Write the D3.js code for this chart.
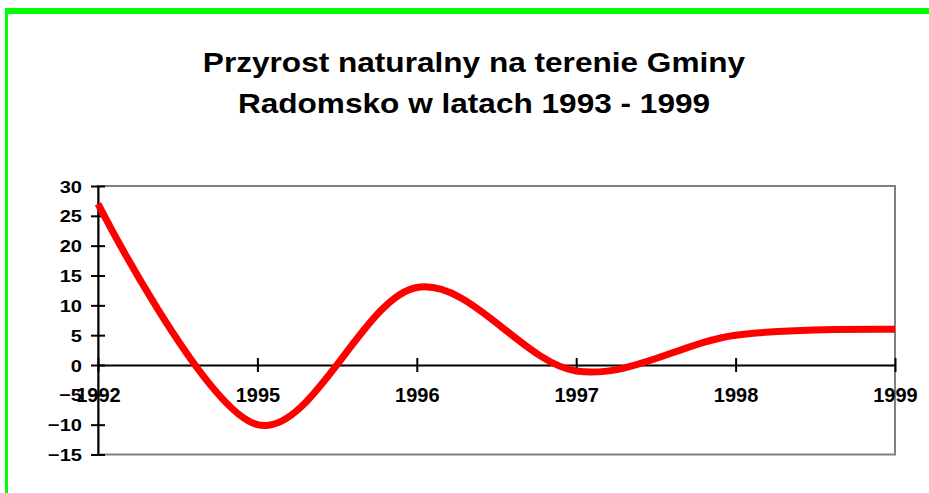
<!DOCTYPE html>
<head>
  <meta charset="utf-8">
  <script src="https://d3js.org/d3.v7.min.js"></script>
  <style>
    body { margin:0; background:#fff; }
    text { font-family: Arial, "Liberation Sans", sans-serif; font-weight: bold; fill: #000; }
  </style>
</head>
<body>
  <script>
    // chart data
    var years = ['1992', '1995', '1996', '1997', '1998', '1999'];
    var growth = [27, -10, 13, -1, 5, 6];
    var yTicks = [-15, -10, -5, 0, 5, 10, 15, 20, 25, 30];
    var titleLines = ['Przyrost naturalny na terenie Gminy', 'Radomsko w latach 1993 - 1999'];

    var width = 929, height = 493;
    var plotL = 98, plotR = 895, plotT = 186, plotB = 454.5;

    var svg = d3.select('body').append('svg')
      .attr('width', width)
      .attr('height', height);

    // green frame (top and left)
    svg.append('rect').attr('x', 5).attr('y', 8).attr('width', width - 5).attr('height', 6).attr('fill', '#00ff00');
    svg.append('rect').attr('x', 5).attr('y', 8).attr('width', 3).attr('height', height - 8).attr('fill', '#00ff00');

    // title (stretched a bit wider, like the original)
    svg.append('g')
      .attr('transform', 'translate(474,0) scale(1.17,1)')
      .append('text')
      .attr('text-anchor', 'middle')
      .style('font-size', '27px')
      .selectAll('tspan')
      .data(titleLines)
      .enter().append('tspan')
      .attr('x', 0)
      .attr('y', (d, i) => 72 + i * 41)
      .text(d => d);

    var x = d3.scalePoint().domain(years).range([plotL, plotR]);
    var y = d3.scaleLinear().domain([-15, 30]).range([plotB, plotT]);

    // plot frame (gray)
    svg.append('rect')
      .attr('x', plotL).attr('y', plotT)
      .attr('width', plotR - plotL).attr('height', plotB - plotT)
      .attr('fill', 'none')
      .attr('stroke', '#808080')
      .attr('stroke-width', 2);

    // y axis
    var yAxis = svg.append('g')
      .attr('transform', 'translate(' + plotL + ',0)')
      .call(d3.axisLeft(y).tickValues(yTicks).tickSizeInner(7).tickSizeOuter(0).tickPadding(16));
    yAxis.select('.domain').attr('stroke', '#000').attr('stroke-width', 2);
    yAxis.selectAll('.tick line').attr('x1', -7).attr('x2', 7).attr('stroke', '#000').attr('stroke-width', 2);
    yAxis.selectAll('.tick text')
      .style('font-size', '17px')
      .attr('x', 0)
      .attr('dy', '0.36em')
      .attr('transform', 'translate(-16,0) scale(1.18,1)');

    // x axis at zero
    var xAxis = svg.append('g')
      .attr('transform', 'translate(0,' + y(0) + ')')
      .call(d3.axisBottom(x).tickSizeInner(7).tickSizeOuter(0).tickPadding(16));
    xAxis.select('.domain').attr('stroke', '#000').attr('stroke-width', 2);
    xAxis.selectAll('.tick line').attr('y1', -7).attr('stroke', '#000').attr('stroke-width', 2);
    xAxis.selectAll('.tick text').style('font-size', '20px');

    // smoothed line
    var line = d3.line()
      .x((d, i) => x(years[i]))
      .y(d => y(d))
      .curve(d3.curveCardinal.tension(0));

    svg.append('path')
      .datum(growth)
      .attr('d', line)
      .attr('fill', 'none')
      .attr('stroke', '#ff0000')
      .attr('stroke-width', 7)
      .attr('stroke-linejoin', 'round');
  </script>
</body>
